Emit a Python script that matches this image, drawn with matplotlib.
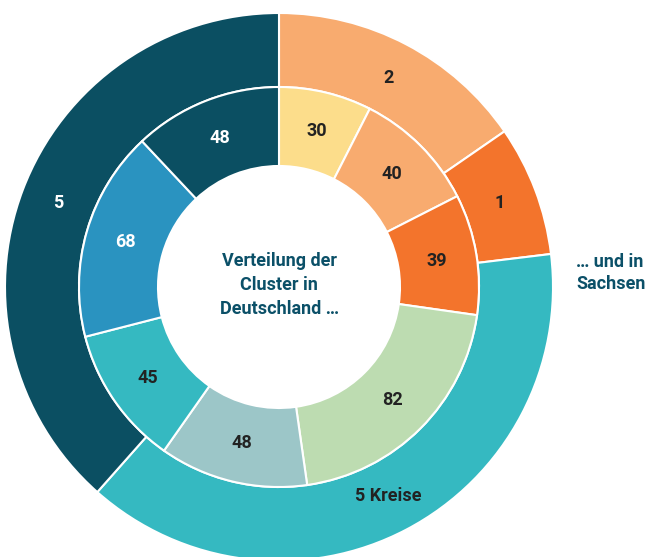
import numpy as np
import matplotlib.pyplot as plt

plt.rcParams['font.family'] = ['Roboto', 'DejaVu Sans']

# Innerer Ring: Cluster in Deutschland (im Uhrzeigersinn ab 12 Uhr)
werte_innen = [30, 40, 39, 82, 48, 45, 68, 48]
labels_innen = ['30', '40', '39', '82', '48', '45', '68', '48']
farben_innen = ['#fcdd8b', '#f8ab6f', '#f3742c', '#bddcb1',
                '#9cc6c8', '#35b9c1', '#2a93c0', '#0b4f62']
textfarben_innen = ['#222222', '#222222', '#222222', '#222222',
                    '#222222', '#222222', 'white', 'white']

# Äußerer Ring: Sachsen
werte_aussen = [2, 1, 5, 5]
labels_aussen = ['2', '1', '5 Kreise', '5']
farben_aussen = ['#f8ab6f', '#f3742c', '#35b9c1', '#0b4f62']
textfarben_aussen = ['#222222', '#222222', '#222222', 'white']

fig = plt.figure(figsize=(6.48, 5.57), dpi=100)
ax = fig.add_axes([0, 0, 1, 1])

cx, cy = 279, 270
r_aussen, r_mitte, r_innen = 274, 200, 121

w_out, _ = ax.pie(werte_aussen, colors=farben_aussen, radius=r_aussen, center=(cx, cy),
                  startangle=90, counterclock=False, frame=True,
                  wedgeprops=dict(width=r_aussen - r_mitte, edgecolor='white', linewidth=1.5))
w_in, _ = ax.pie(werte_innen, colors=farben_innen, radius=r_mitte, center=(cx, cy),
                 startangle=90, counterclock=False, frame=True,
                 wedgeprops=dict(width=r_mitte - r_innen, edgecolor='white', linewidth=1.5))
ax.set_xlim(0, 648)
ax.set_ylim(0, 557)
ax.set_aspect('equal')
ax.axis('off')


def beschriften(wedges, labels, farben, r):
    for w, lab, fc in zip(wedges, labels, farben):
        mid = np.deg2rad((w.theta1 + w.theta2) / 2)
        ax.text(cx + r * np.cos(mid), cy + r * np.sin(mid), lab, ha='center', va='center',
                fontsize=13, fontweight='bold', color=fc)


beschriften(w_in, labels_innen, textfarben_innen, 160)
beschriften(w_out, labels_aussen, textfarben_aussen, 236)

ax.text(cx, cy + 2, 'Verteilung der\nCluster in\nDeutschland …', ha='center', va='center',
        fontsize=13, fontweight='bold', color='#0b5068', linespacing=1.4)
ax.text(576, 284, '… und in\nSachsen', ha='left', va='center',
        fontsize=13, fontweight='bold', color='#0b5068', linespacing=1.3)

fig.savefig('out.png', dpi=100)
